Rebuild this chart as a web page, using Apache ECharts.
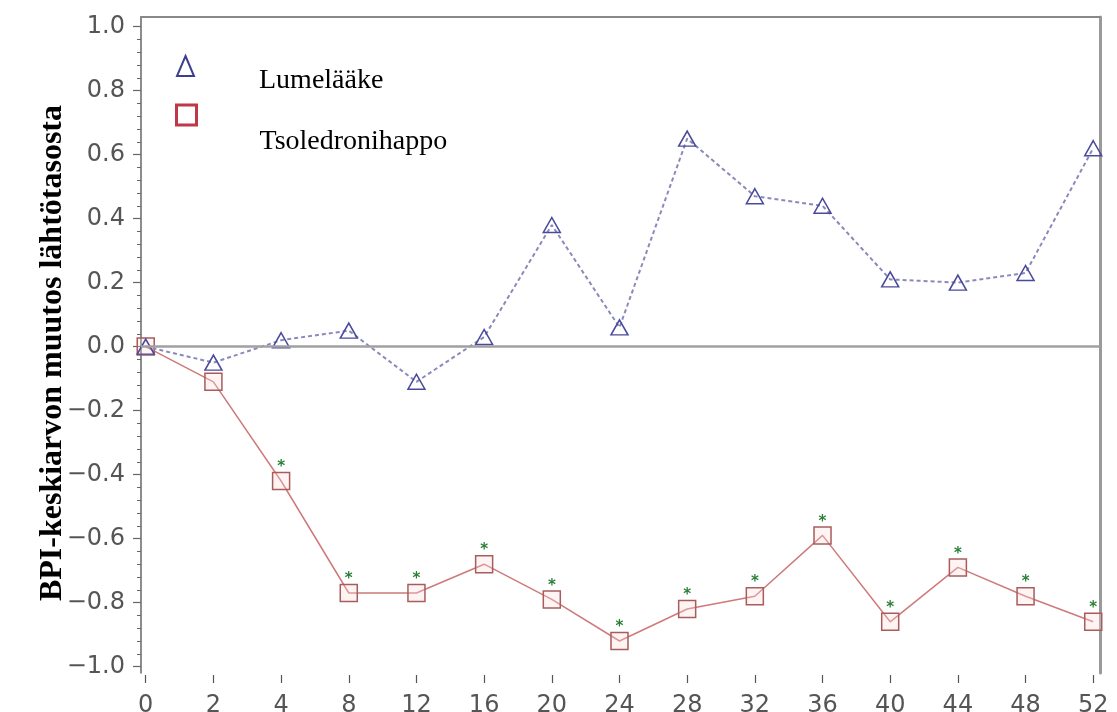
<!DOCTYPE html>
<html><head><meta charset="utf-8">
<script src="https://cdn.jsdelivr.net/npm/echarts@6/dist/echarts.min.js"></script>
<style>html,body{margin:0;padding:0;background:#fff}#c{width:1117px;height:712px}</style>
</head><body><div id="c"></div>
<script>
const weeks = ['0','2','4','8','12','16','20','24','28','32','36','40','44','48','52'];
const placebo = [0.00,-0.05,0.02,0.05,-0.11,0.03,0.38,0.06,0.65,0.47,0.44,0.21,0.20,0.23,0.62];
const zoledronic = [0.00,-0.11,-0.42,-0.77,-0.77,-0.68,-0.79,-0.92,-0.82,-0.78,-0.59,-0.86,-0.69,-0.78,-0.86];
const significant = [0,0,1,1,1,1,1,1,1,1,1,1,1,1,1];
const yMajorTicks = [-1.0,-0.8,-0.6,-0.4,-0.2,0.0,0.2,0.4,0.6,0.8,1.0];
const seriesNames = ['Lumelääke','Tsoledronihappo'];
const yTitle = 'BPI-keskiarvon muutos lähtötasosta';

const yMinorTicks = [];
for (let k = -25; k <= 25; k++) yMinorTicks.push(Math.round(k * 4) / 100);
const xPos = weeks.map((w, i) => i);

const Y_MIN = -1.02, Y_MAX = 1.03, X_MIN = -0.07, X_MAX = 14.1;
const fmtY = v => (v < -1e-9 ? '\u2212' : '') + Math.abs(v).toFixed(1);

const chart = echarts.init(document.getElementById('c'));
chart.setOption({
  animation: false,
  backgroundColor: '#fff',
  grid: { left: 141, right: 17, top: 17, bottom: 39, containLabel: false, outerBoundsMode: 'none' },
  legend: [
    {
      data: [seriesNames[0]], left: 171, top: 31, padding: 5,
      icon: 'triangle', itemWidth: 17, itemHeight: 20, selectedMode: false,
      formatter: n => '\n' + n,
      itemStyle: { color: 'rgba(0,0,0,0)', borderColor: '#3e3e8e', borderWidth: 2 },
      textStyle: { fontFamily: 'Liberation Serif', fontSize: 28, lineHeight: 30, color: '#000', padding: [0, 0, 0, 60] }
    },
    {
      data: [seriesNames[1]], left: 170, top: 56, padding: 5,
      icon: 'rect', itemWidth: 20, itemHeight: 20, selectedMode: false,
      formatter: n => '\n' + n,
      itemStyle: { color: 'rgba(0,0,0,0)', borderColor: '#c03848', borderWidth: 3 },
      textStyle: { fontFamily: 'Liberation Serif', fontSize: 28, lineHeight: 54, color: '#000', padding: [0, 0, 0, 58] }
    }
  ],
  xAxis: [
    {
      type: 'value', min: X_MIN, max: X_MAX, position: 'bottom', offset: 2,
      axisLine: { show: false, onZero: false },
      splitLine: { show: false },
      axisTick: { show: true, customValues: xPos, length: 8, lineStyle: { color: '#555', width: 1.2 } },
      axisLabel: { customValues: xPos, formatter: v => weeks[Math.round(v)], fontFamily: 'DejaVu Sans', fontSize: 24, color: '#555', margin: 19 }
    },
    {
      type: 'value', min: X_MIN, max: X_MAX, position: 'top',
      axisLine: { show: true, onZero: false, lineStyle: { color: '#888', width: 2 } },
      axisTick: { show: false }, axisLabel: { show: false }, splitLine: { show: false }
    }
  ],
  yAxis: [
    {
      type: 'value', min: Y_MIN, max: Y_MAX, position: 'left',
      axisLine: { show: true, onZero: false, lineStyle: { color: '#666', width: 1.5 } },
      axisTick: { show: true, customValues: yMinorTicks, length: 4, lineStyle: { color: '#666', width: 1 } },
      axisLabel: { customValues: yMajorTicks, formatter: fmtY, fontFamily: 'DejaVu Sans', fontSize: 24, color: '#555', margin: 16 },
      splitLine: { show: false },
      name: yTitle, nameLocation: 'middle', nameRotate: 90, nameGap: 72, nameMoveOverlap: false,
      nameTextStyle: { fontFamily: 'Liberation Serif', fontWeight: 'bold', fontSize: 32, color: '#000', padding: [0, 16, 0, 0] }
    },
    {
      type: 'value', min: Y_MIN, max: Y_MAX, position: 'left',
      axisLine: { show: false, onZero: false },
      axisTick: { show: true, customValues: yMajorTicks, length: 8, lineStyle: { color: '#666', width: 1.2 } },
      axisLabel: { show: false }, splitLine: { show: false }
    },
    {
      type: 'value', min: Y_MIN, max: Y_MAX, position: 'right',
      axisLine: { show: true, onZero: false, lineStyle: { color: '#9a9a9a', width: 3 } },
      axisTick: { show: false }, axisLabel: { show: false }, splitLine: { show: false }
    }
  ],
  series: [
    {
      name: seriesNames[0], type: 'line', xAxisIndex: 0, yAxisIndex: 0, z: 4,
      data: placebo.map((v, i) => [xPos[i], v]),
      symbol: 'triangle', symbolSize: [17, 15],
      lineStyle: { color: '#8a8aba', width: 2, type: [4, 3] },
      itemStyle: { color: 'rgba(0,0,0,0)', borderColor: '#4a4a9c', borderWidth: 1.5 },
      emphasis: { disabled: true },
      markLine: {
        silent: true, symbol: 'none', label: { show: false },
        lineStyle: { color: '#a0a0a0', width: 2.5, type: 'solid' },
        data: [{ yAxis: 0 }]
      }
    },
    {
      name: seriesNames[1], type: 'line', xAxisIndex: 0, yAxisIndex: 0, z: 3,
      data: zoledronic.map((v, i) => [xPos[i], v]),
      symbol: 'rect', symbolSize: 17,
      lineStyle: { color: '#cf7a7a', width: 1.5 },
      itemStyle: { color: 'rgba(255,220,220,0.3)', borderColor: '#a85c5c', borderWidth: 1.5 },
      label: {
        show: true, position: 'top', distance: -3,
        formatter: p => significant[p.dataIndex] ? '*' : '',
        color: '#2a7f38', fontSize: 15, fontWeight: 'bold', fontFamily: 'DejaVu Sans'
      },
      emphasis: { disabled: true }
    }
  ]
});
</script></body></html>
